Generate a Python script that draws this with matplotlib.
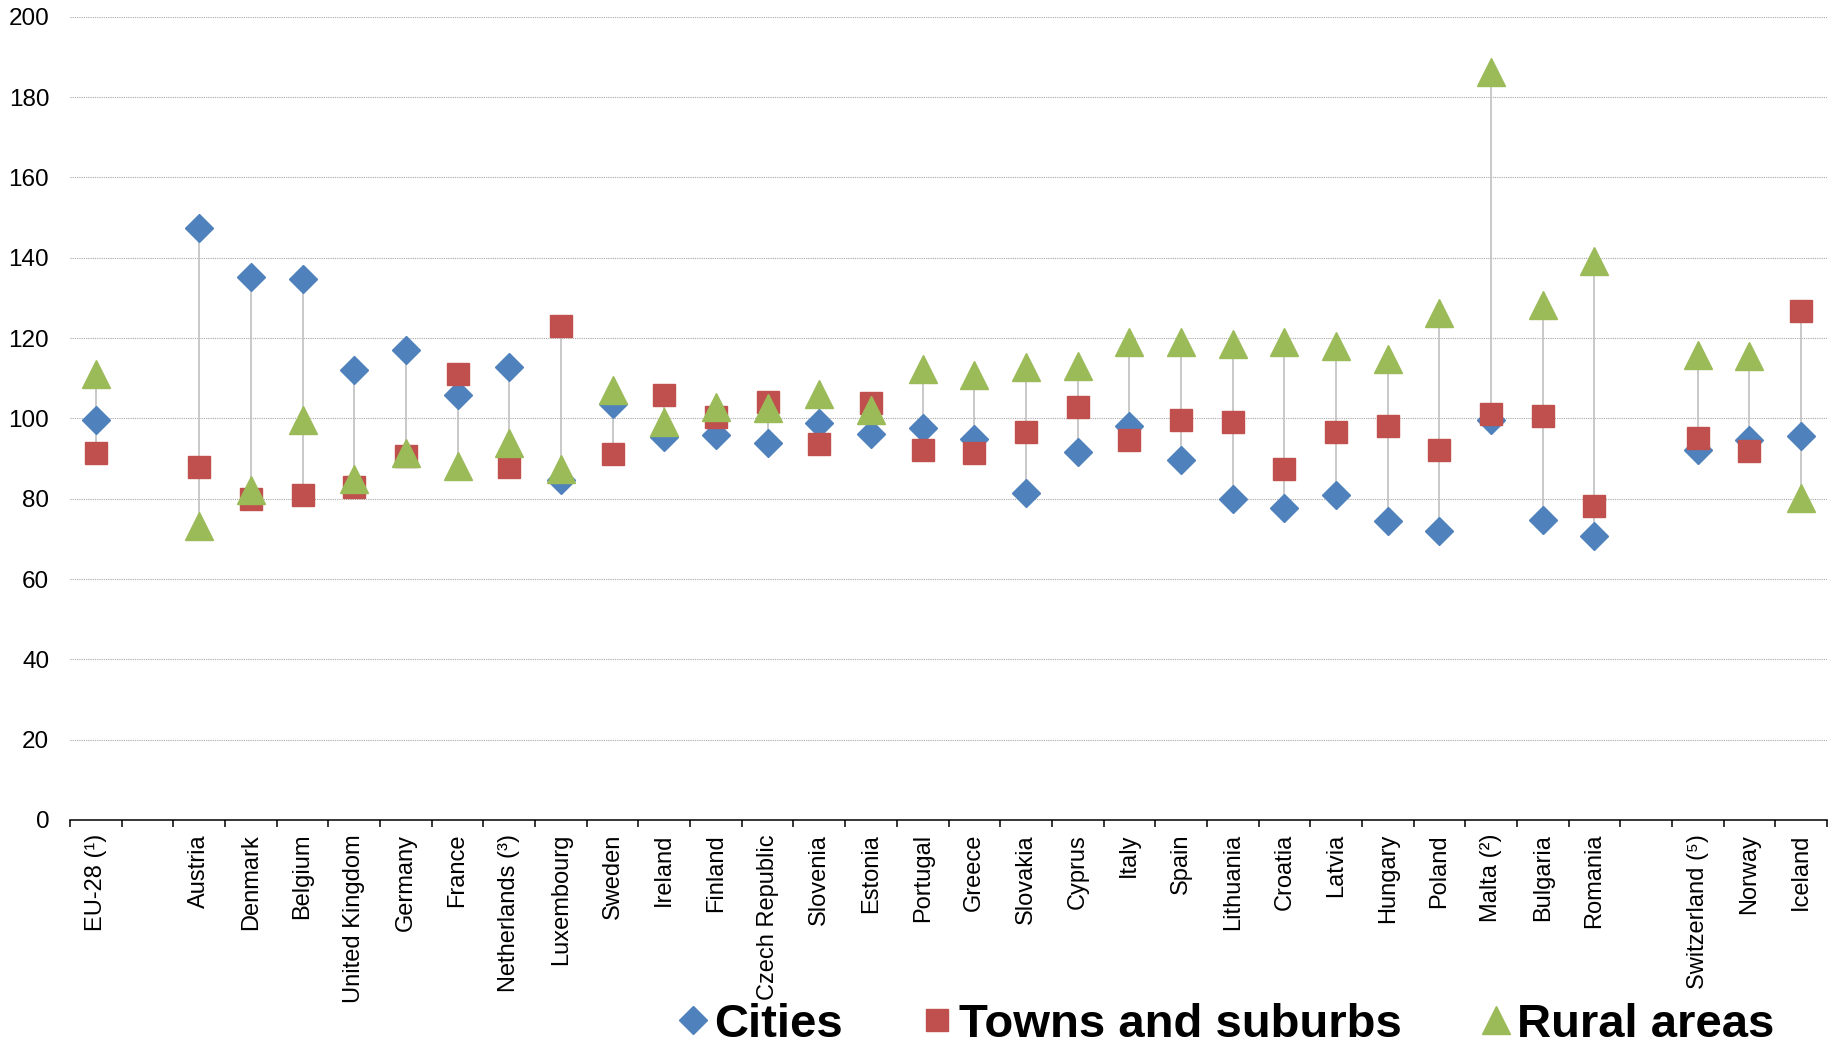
import numpy as np
import matplotlib
matplotlib.use("Agg")
import matplotlib.pyplot as plt

plt.rcParams['font.family'] = ['Liberation Sans', 'DejaVu Sans']

nan = np.nan

# '' marks an empty slot on the category axis
categories = ['EU-28 (¹)', '', 'Austria', 'Denmark', 'Belgium', 'United Kingdom',
              'Germany', 'France', 'Netherlands (³)', 'Luxembourg', 'Sweden',
              'Ireland', 'Finland', 'Czech Republic', 'Slovenia', 'Estonia',
              'Portugal', 'Greece', 'Slovakia', 'Cyprus', 'Italy', 'Spain',
              'Lithuania', 'Croatia', 'Latvia', 'Hungary', 'Poland', 'Malta (²)',
              'Bulgaria', 'Romania', '', 'Switzerland (⁵)', 'Norway', 'Iceland']

cities = [99.6, nan, 147.4, 135.1, 134.8, 112.0, 116.9, 105.8, 112.7, 84.6, 103.6,
          95.4, 95.8, 93.9, 98.9, 96.1, 97.5, 94.8, 81.5, 91.5, 98.2, 89.6,
          79.9, 77.7, 80.9, 74.4, 71.9, 99.6, 74.6, 70.6, nan, 92.2, 94.7, 95.5]

towns = [91.3, nan, 88.0, 79.9, 81.0, 82.9, 90.6, 111.1, 88.0, 123.0, 91.1,
         105.8, 100.4, 104.0, 93.6, 103.7, 92.0, 91.3, 96.5, 102.8, 94.5, 99.5,
         99.2, 87.3, 96.5, 98.0, 92.2, 101.2, 100.7, 78.3, nan, 95.0, 91.8, 126.7]

rural = [111.1, nan, 73.3, 82.2, 99.6, 84.8, 91.3, 88.1, 93.9, 87.3, 107.1,
         99.1, 102.9, 102.7, 106.0, 102.0, 112.4, 110.9, 112.9, 113.1, 119.1, 119.1,
         118.6, 119.1, 118.0, 114.7, 126.3, 186.2, 128.1, 139.2, nan, 115.8, 115.5, 80.2]

blue = '#4F81BD'
red = '#C0504D'
green = '#9BBB59'

x = np.arange(len(categories))
allv = np.array([cities, towns, rural], dtype=float)

fig = plt.figure(figsize=(18.33, 10.47), dpi=100)
ax = fig.add_axes([70/1833, 1-820/1047, (1827-70)/1833, (820-16.7)/1047])

# high-low connectors
ax.vlines(x, np.nanmin(allv, axis=0), np.nanmax(allv, axis=0),
          color='#c0c0c0', lw=1.2, zorder=2)

l1, = ax.plot(x, cities, ls='none', marker='D', ms=14.3, color=blue, mec=blue, zorder=3, label='Cities')
l2, = ax.plot(x, towns, ls='none', marker='s', ms=15.3, color=red, mec=red, zorder=4, label='Towns and suburbs')
l3, = ax.plot(x, rural, ls='none', marker='^', ms=20.5, color=green, mec=green, zorder=5, label='Rural areas')

ax.set_xlim(-0.5, len(categories) - 0.5)
ax.set_ylim(0, 200)
ax.set_yticks(range(0, 201, 20))
ax.yaxis.grid(True, color='#a8a8a8', lw=0.8, ls=(0, (1, 1)))
ax.set_axisbelow(True)

for s in ['top', 'right', 'left']:
    ax.spines[s].set_visible(False)
ax.spines['bottom'].set_linewidth(1.1)
ax.spines['bottom'].set_zorder(6)

ax.tick_params(axis='y', length=0, pad=15, labelsize=17.5)
ax.set_xticks(x)
ax.set_xticklabels(categories, rotation=90, va='top', ha='center', fontsize=17)
ax.tick_params(axis='x', which='major', length=0, pad=10)
ax.set_xticks(np.arange(-0.5, len(categories)), minor=True)
ax.tick_params(axis='x', which='minor', length=5, width=1.1, color='black', direction='out')

fig.legend(handles=[l1, l2, l3], loc='lower left', bbox_to_anchor=(674/1833, 0.0),
           ncol=3, frameon=False, borderpad=0, borderaxespad=0,
           handlelength=0.8, handletextpad=0.05, columnspacing=1.6,
           prop={'family': ['Liberation Sans', 'DejaVu Sans'], 'weight': 'bold', 'size': 34})

fig.savefig('out.png', dpi=100)
